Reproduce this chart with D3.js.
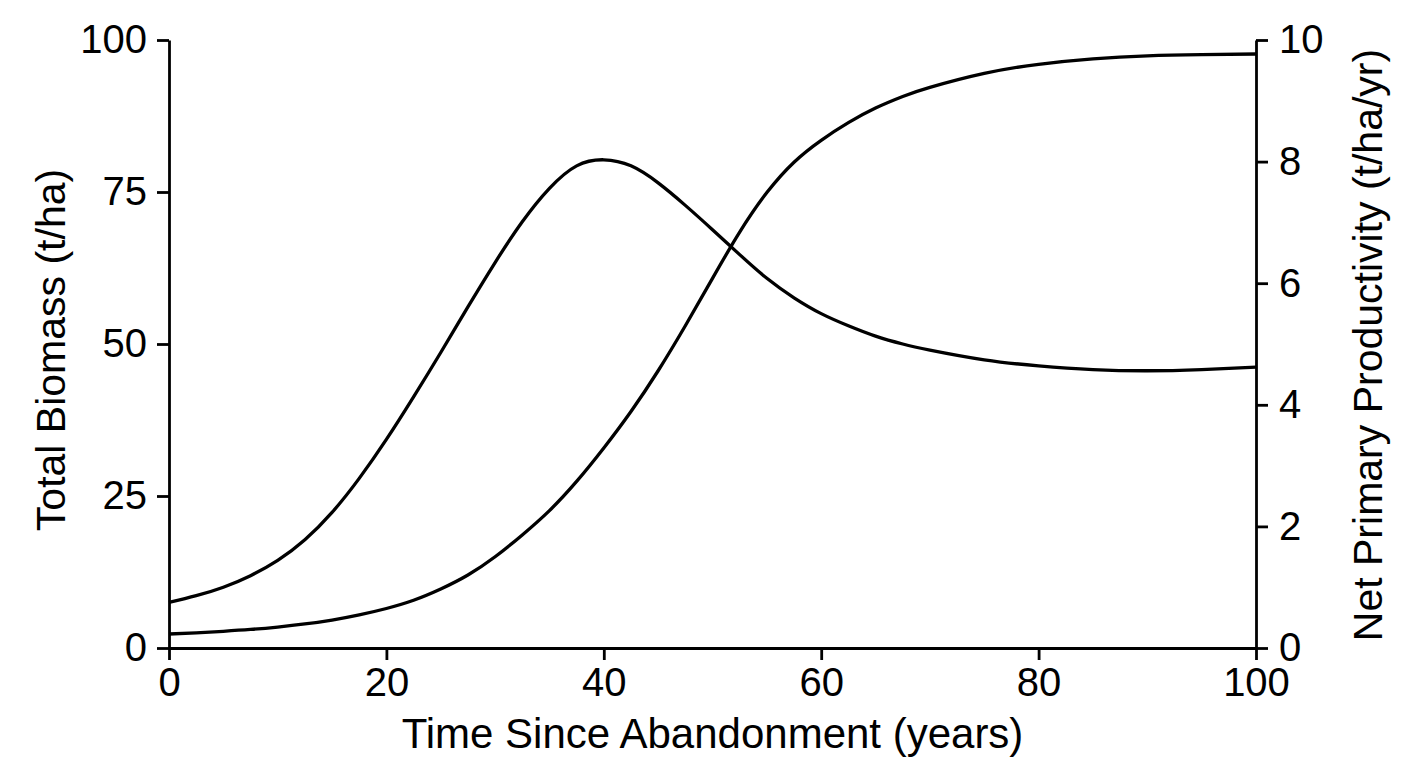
<!DOCTYPE html>
<html>
<head>
<meta charset="utf-8">
<script src="https://cdn.jsdelivr.net/npm/d3@7"></script>
<style>
  body { margin: 0; background: #fff; }
  svg { display: block; font-family: "Liberation Sans", Arial, sans-serif; }
</style>
</head>
<body>
<svg id="chart"></svg>
<script>
// years since abandonment
const years = [0, 2.5, 5, 7.5, 10, 12.5, 15, 17.5, 20, 22.5, 25, 27.5, 30, 32.5, 35, 37.5, 40, 42.5, 45, 47.5, 50, 52.5, 55, 57.5, 60, 62.5, 65, 67.5, 70, 75, 80, 85, 90, 95, 100];
// total biomass (t/ha), left axis
const biomass = [2.3, 2.5, 2.75, 3.05, 3.45, 3.95, 4.6, 5.45, 6.5, 7.85, 9.7, 12.0, 15.0, 18.6, 22.6, 27.4, 32.9, 38.9, 45.6, 53.0, 60.8, 68.4, 74.9, 79.9, 83.5, 86.4, 88.8, 90.7, 92.2, 94.5, 96.0, 96.9, 97.4, 97.6, 97.7];
// net primary productivity (t/ha/yr), right axis
const npp = [0.75, 0.86, 1.0, 1.19, 1.44, 1.78, 2.23, 2.79, 3.43, 4.13, 4.86, 5.61, 6.34, 7.01, 7.56, 7.93, 8.03, 7.93, 7.65, 7.28, 6.88, 6.47, 6.08, 5.76, 5.5, 5.3, 5.13, 5.0, 4.9, 4.74, 4.64, 4.58, 4.56, 4.58, 4.62];

const xTicks = [0, 20, 40, 60, 80, 100];
const leftTicks = [0, 25, 50, 75, 100];
const rightTicks = [0, 2, 4, 6, 8, 10];

const width = 1408;
const height = 768;
const margin = { top: 40, right: 152, bottom: 120, left: 169 };

const svg = d3.select("#chart")
  .attr("width", width)
  .attr("height", height)
  .attr("viewBox", [0, 0, width, height]);

const x = d3.scaleLinear().domain([0, 100]).range([margin.left, width - margin.right]);
const yLeft = d3.scaleLinear().domain([0, 100]).range([height - margin.bottom, margin.top]);
const yRight = d3.scaleLinear().domain([0, 10]).range([height - margin.bottom, margin.top]);

function styleAxis(g) {
  g.selectAll("path, line").attr("stroke", "#000").attr("stroke-width", 2.8);
  g.selectAll("text").attr("fill", "#000").style("font-size", "40px");
}

svg.append("g")
  .attr("transform", `translate(0,${height - margin.bottom})`)
  .call(d3.axisBottom(x).tickValues(xTicks).tickSize(12).tickSizeOuter(0).tickPadding(6))
  .call(styleAxis)
  .call(g => g.selectAll("text").attr("dy", "0.75em"));

svg.append("g")
  .attr("transform", `translate(${margin.left},0)`)
  .call(d3.axisLeft(yLeft).tickValues(leftTicks).tickSize(12).tickSizeOuter(0).tickPadding(10))
  .call(styleAxis);

svg.append("g")
  .attr("transform", `translate(${width - margin.right},0)`)
  .call(d3.axisRight(yRight).tickValues(rightTicks).tickSize(12).tickSizeOuter(0).tickPadding(11))
  .call(styleAxis);

const rows = years.map((t, i) => ({ t, b: biomass[i], n: npp[i] }));

const lineB = d3.line().x(d => x(d.t)).y(d => yLeft(d.b)).curve(d3.curveNatural);
const lineN = d3.line().x(d => x(d.t)).y(d => yRight(d.n)).curve(d3.curveNatural);

svg.append("path")
  .datum(rows)
  .attr("fill", "none")
  .attr("stroke", "#000")
  .attr("stroke-width", 3.3)
  .attr("d", lineB);

svg.append("path")
  .datum(rows)
  .attr("fill", "none")
  .attr("stroke", "#000")
  .attr("stroke-width", 3.3)
  .attr("d", lineN);

// axis titles
svg.append("text")
  .attr("x", (margin.left + width - margin.right) / 2)
  .attr("y", 748)
  .attr("text-anchor", "middle")
  .style("font-size", "42px")
  .text("Time Since Abandonment (years)");

svg.append("text")
  .attr("transform", "translate(65,350) rotate(-90)")
  .attr("text-anchor", "middle")
  .style("font-size", "41px")
  .text("Total Biomass (t/ha)");

svg.append("text")
  .attr("transform", "translate(1382,345) rotate(-90)")
  .attr("text-anchor", "middle")
  .style("font-size", "41px")
  .text("Net Primary Productivity (t/ha/yr)");
</script>
</body>
</html>
